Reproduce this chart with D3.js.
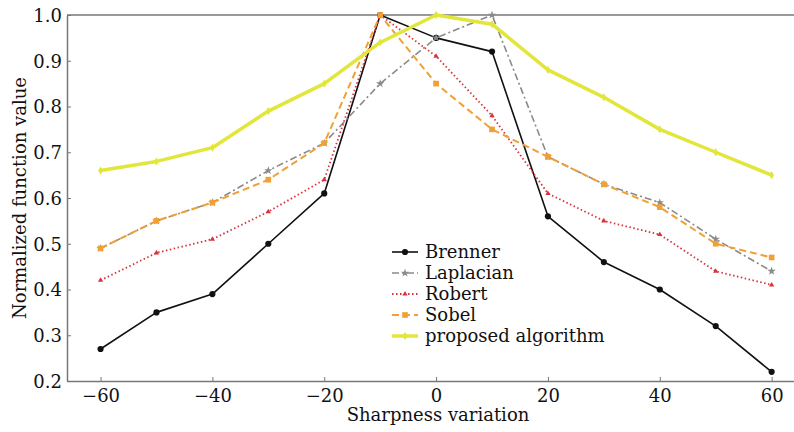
<!DOCTYPE html>
<html>
<head>
<meta charset="utf-8">
<script src="https://cdn.jsdelivr.net/npm/d3@7"></script>
<style>
  body { margin: 0; background: #fff; }
  text { font-family: "DejaVu Serif", serif; }
</style>
</head>
<body>
<svg id="chart"></svg>
<script>
const variation = [-60, -50, -40, -30, -20, -10, 0, 10, 20, 30, 40, 50, 60];
const brenner   = [0.27, 0.35, 0.39, 0.50, 0.61, 1.00, 0.95, 0.92, 0.56, 0.46, 0.40, 0.32, 0.22];
const laplacian = [0.49, 0.55, 0.59, 0.66, 0.72, 0.85, 0.95, 1.00, 0.69, 0.63, 0.59, 0.51, 0.44];
const robert    = [0.42, 0.48, 0.51, 0.57, 0.64, 1.00, 0.91, 0.78, 0.61, 0.55, 0.52, 0.44, 0.41];
const sobel     = [0.49, 0.55, 0.59, 0.64, 0.72, 1.00, 0.85, 0.75, 0.69, 0.63, 0.58, 0.50, 0.47];
const proposed  = [0.66, 0.68, 0.71, 0.79, 0.85, 0.94, 1.00, 0.98, 0.88, 0.82, 0.75, 0.70, 0.65];
const xTicks = [-60, -40, -20, 0, 20, 40, 60];
const yTicks = [0.2, 0.3, 0.4, 0.5, 0.6, 0.7, 0.8, 0.9, 1.0];

const svg = d3.select("#chart")
    .attr("width", 794)
    .attr("height", 432);

const x = d3.scaleLinear().domain([-66, 64]).range([67, 794]);
const y = d3.scaleLinear().domain([0.2, 1.0]).range([381, 15]);

const axisColor = "#777";

// axes
const xAxis = svg.append("g")
    .attr("transform", "translate(0,381)")
    .call(d3.axisBottom(x).tickValues(xTicks).tickSizeInner(-4).tickSizeOuter(0)
        .tickFormat(d => d < 0 ? "\u2212" + Math.abs(d) : d));
xAxis.select(".domain").attr("stroke", axisColor).attr("stroke-width", 1.5);
xAxis.selectAll(".tick line").attr("stroke", axisColor);
xAxis.selectAll(".tick text")
    .attr("y", 21)
    .attr("dy", 0)
    .attr("fill", "#111")
    .style("font-size", "18px")
    .style("font-family", "DejaVu Serif");

const yAxis = svg.append("g")
    .attr("transform", "translate(67,0)")
    .call(d3.axisLeft(y).tickValues(yTicks).tickSizeInner(-4).tickSizeOuter(0)
        .tickFormat(d3.format(".1f")));
yAxis.select(".domain").attr("stroke", axisColor).attr("stroke-width", 1.5);
yAxis.selectAll(".tick line").attr("stroke", axisColor);
yAxis.selectAll(".tick text")
    .attr("x", -5)
    .attr("dy", "0.36em")
    .attr("fill", "#111")
    .style("font-size", "18px")
    .style("font-family", "DejaVu Serif");

// top frame line
svg.append("line")
    .attr("x1", 67).attr("x2", 794)
    .attr("y1", 15).attr("y2", 15)
    .attr("stroke", axisColor)
    .attr("stroke-width", 1.5);

// axis titles
svg.append("text")
    .attr("x", 438)
    .attr("y", 421)
    .attr("text-anchor", "middle")
    .style("font-size", "18px")
    .attr("fill", "#111")
    .text("Sharpness variation");

svg.append("text")
    .attr("transform", "translate(26,198) rotate(-90)")
    .attr("text-anchor", "middle")
    .style("font-size", "18px")
    .attr("fill", "#111")
    .text("Normalized function value");

const series = [
    { name: "Brenner", values: brenner, color: "#111", width: 1.6, dash: null, marker: "circle", size: 30 },
    { name: "Laplacian", values: laplacian, color: "#8a8a8a", width: 1.6, dash: "7,3,2,3", marker: "star", size: 22 },
    { name: "Robert", values: robert, color: "#d8323c", width: 1.8, dash: "1.5,2.5", marker: "triangle", size: 12 },
    { name: "Sobel", values: sobel, color: "#f0a034", width: 2, dash: "7,4", marker: "square", size: 32 },
    { name: "proposed algorithm", values: proposed, color: "#e2e63a", width: 3.5, dash: null, marker: "diamond", size: 20 }
];

const symbolType = {
    circle: d3.symbolCircle,
    star: d3.symbolStar,
    triangle: d3.symbolTriangle,
    square: d3.symbolSquare,
    diamond: d3.symbolDiamond
};

const line = d3.line()
    .x((d, i) => x(variation[i]))
    .y(d => y(d));

series.forEach(s => {
    svg.append("path")
        .datum(s.values)
        .attr("d", line)
        .attr("fill", "none")
        .attr("stroke", s.color)
        .attr("stroke-width", s.width)
        .attr("stroke-dasharray", s.dash)
        .attr("stroke-linejoin", "round");

    svg.append("g").selectAll("path")
        .data(s.values)
        .join("path")
        .attr("transform", (d, i) => `translate(${x(variation[i])},${y(d)})`)
        .attr("d", d3.symbol(symbolType[s.marker], s.size))
        .attr("fill", s.color);
});

// legend
const legend = svg.append("g").attr("transform", "translate(392,252)");
series.forEach((s, i) => {
    const row = legend.append("g").attr("transform", `translate(0,${i * 21})`);
    row.append("line")
        .attr("x1", 0).attr("x2", 26)
        .attr("y1", 0).attr("y2", 0)
        .attr("stroke", s.color)
        .attr("stroke-width", s.width)
        .attr("stroke-dasharray", s.dash);
    row.append("path")
        .attr("transform", "translate(13,0)")
        .attr("d", d3.symbol(symbolType[s.marker], s.size))
        .attr("fill", s.color);
    row.append("text")
        .attr("x", 33)
        .attr("y", 0)
        .attr("dy", "0.36em")
        .style("font-size", "18px")
        .attr("fill", "#111")
        .text(s.name);
});
</script>
</body>
</html>
